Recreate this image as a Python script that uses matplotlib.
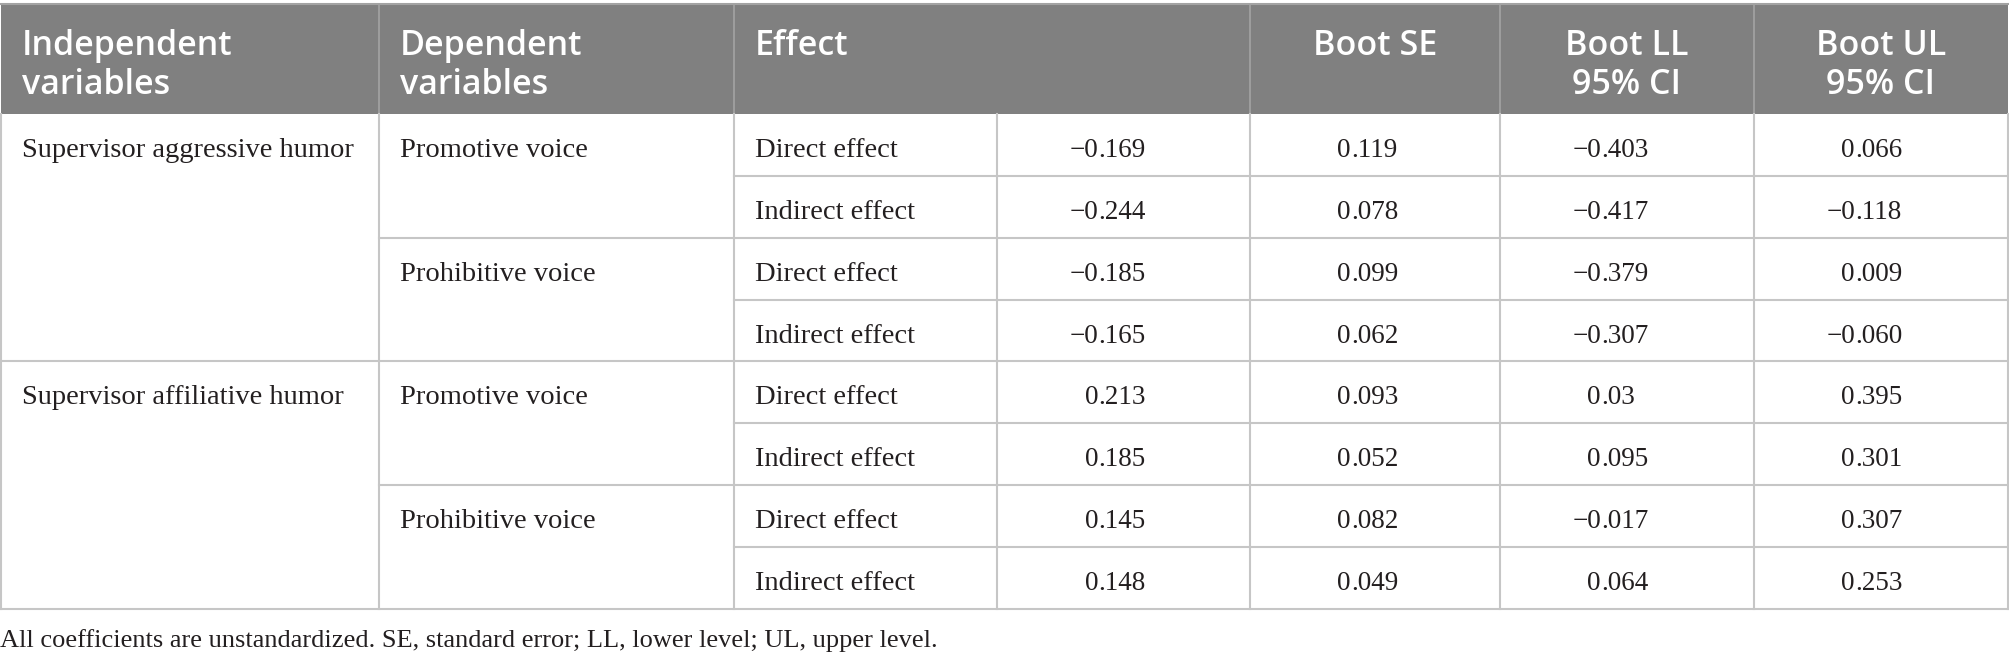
import matplotlib
matplotlib.use("Agg")
import matplotlib.pyplot as plt

# data
independent = ["Supervisor aggressive humor", "Supervisor affiliative humor"]
dependent = ["Promotive voice", "Prohibitive voice"]
effects = ["Direct effect", "Indirect effect"]
effect_val = ["−0.169", "−0.244", "−0.185", "−0.165", "0.213", "0.185", "0.145", "0.148"]
boot_se = ["0.119", "0.078", "0.099", "0.062", "0.093", "0.052", "0.082", "0.049"]
boot_ll = ["−0.403", "−0.417", "−0.379", "−0.307", "0.03", "0.095", "−0.017", "0.064"]
boot_ul = ["0.066", "−0.118", "0.009", "−0.060", "0.395", "0.301", "0.307", "0.253"]
headers = [["Independent", "variables"], ["Dependent", "variables"], ["Effect"],
           ["Boot SE"], ["Boot LL", "95% CI"], ["Boot UL", "95% CI"]]
note = "All coefficients are unstandardized. SE, standard error; LL, lower level; UL, upper level."

W, H = 2009, 661
fig = plt.figure(figsize=(W / 100, H / 100), dpi=100)
ax = fig.add_axes([0, 0, 1, 1])
ax.set_xlim(0, W)
ax.set_ylim(H, 0)
ax.axis("off")

cols = [1, 379, 734, 997, 1250, 1500, 1754, 2008]
top, head_bot = 4, 114
row_h = 61.85
n_rows = 8
body_bot = head_bot + n_rows * row_h

hdr_bg = "#808080"
hdr_sep = "#a3a3a3"
grid = "#c6c6c6"
ink = "#231f20"
serif = "Liberation Serif"
sans = "Open Sans"

# header
ax.fill_between([cols[0], cols[-1]], top, head_bot, color=hdr_bg, lw=0)
ax.plot([cols[0], cols[-1]], [top, top], color=hdr_sep, lw=1.5)
for x in [cols[1], cols[2], cols[4], cols[5], cols[6]]:
    ax.plot([x, x], [top, head_bot], color=hdr_sep, lw=1.2)

hdr_pos = [(cols[0] + 21, "left"), (cols[1] + 21, "left"), (cols[2] + 21, "left"),
           ((cols[4] + cols[5]) / 2, "center"),
           ((cols[5] + cols[6]) / 2, "center"),
           ((cols[6] + cols[7]) / 2, "center")]
for (x, ha), lines in zip(hdr_pos, headers):
    for k, line in enumerate(lines):
        ax.text(x, 55 + 39 * k, line, ha=ha, va="baseline", color="white",
                fontsize=24.5, family=sans, fontweight="semibold")

# body grid
for i in range(1, n_rows + 1):
    y = head_bot + i * row_h
    if i % 4 == 0:
        x0 = cols[0]
    elif i % 2 == 0:
        x0 = cols[1]
    else:
        x0 = cols[2]
    ax.plot([x0, cols[-1]], [y, y], color=grid, lw=1.5)
for x in cols:
    ax.plot([x, x], [head_bot, body_bot], color=grid, lw=1.5)

# body text
fs_lab = 20.5
fs_num = 19.5
for i in range(n_rows):
    yb = head_bot + i * row_h + 43
    if i % 4 == 0:
        ax.text(cols[0] + 21, yb, independent[i // 4], ha="left", va="baseline",
                fontsize=fs_lab, family=serif, color=ink)
    if i % 2 == 0:
        ax.text(cols[1] + 21, yb, dependent[(i // 2) % 2], ha="left", va="baseline",
                fontsize=fs_lab, family=serif, color=ink)
    ax.text(cols[2] + 21, yb, effects[i % 2], ha="left", va="baseline",
            fontsize=fs_lab, family=serif, color=ink)
    for c, vals in zip([3, 4, 5, 6], [effect_val, boot_se, boot_ll, boot_ul]):
        xd = cols[c] + 101
        whole, frac = vals[i].split(".")
        ax.text(xd, yb, whole, ha="right", va="baseline", fontsize=fs_num,
                family=serif, color=ink)
        ax.text(xd, yb, "." + frac, ha="left", va="baseline", fontsize=fs_num,
                family=serif, color=ink)

# footnote
ax.text(0, 647, note, ha="left", va="baseline", fontsize=19, family=serif,
        color=ink)

fig.savefig("out.png", dpi=100)
